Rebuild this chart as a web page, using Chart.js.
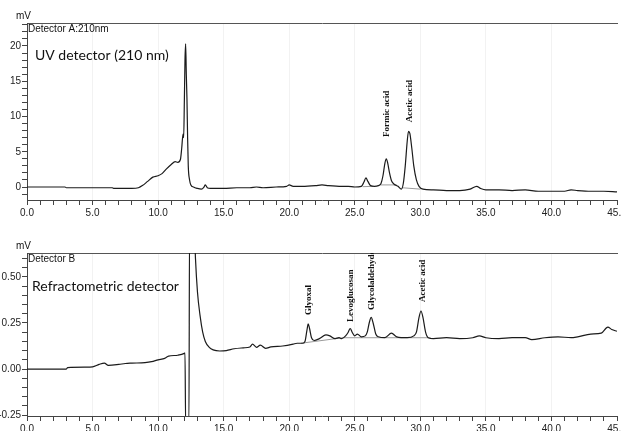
<!DOCTYPE html>
<html>
<head>
<meta charset="utf-8">
<script src="https://cdn.jsdelivr.net/npm/chart.js@4.4.1/dist/chart.umd.min.js"></script>
<style>
  html, body { margin: 0; padding: 0; background: #fff; width: 621px; height: 431px; overflow: hidden; }
  canvas { position: absolute; left: 0; }
  #uv { top: 0; }
  #ri { top: 230px; }
</style>
</head>
<body>
<canvas id="uv" width="640" height="235"></canvas>
<canvas id="ri" width="640" height="210"></canvas>
<script>
// ---------- DATA ----------
// Detector A (UV 210 nm): retention time (min) and signal (mV)
const uvTime = [0, 1, 2, 2.9, 3.0, 5, 6.5, 6.6, 8.0, 8.5, 8.8, 9.2, 9.6, 10.0, 10.3, 10.6, 11.0, 11.3, 11.5, 11.7, 11.8, 11.9, 11.95, 12.0, 12.05, 12.1, 12.15, 12.2, 12.25, 12.3, 12.4, 12.5, 12.7, 13.0, 13.3, 13.5, 13.6, 13.75, 14, 15, 16, 17, 17.5, 18, 19, 19.8, 20.0, 20.3, 21, 22, 22.5, 23, 24, 24.5, 25, 25.5, 25.7, 25.85, 26.0, 26.2, 26.5, 26.8, 27.0, 27.15, 27.3, 27.4, 27.5, 27.65, 27.8, 28.0, 28.3, 28.55, 28.7, 28.85, 29.0, 29.1, 29.2, 29.35, 29.5, 29.7, 29.9, 30.2, 31, 32, 33, 33.8, 34.3, 34.6, 35, 36, 37, 38, 39, 40, 41, 41.5, 42, 43, 44, 45];
const uvSignal = [0.0, 0.0, 0.0, 0.0, -0.1, -0.1, -0.1, -0.2, -0.2, -0.1, 0.2, 0.8, 1.4, 1.6, 1.9, 2.5, 3.2, 3.6, 3.5, 3.9, 5.5, 7.5, 7.0, 12, 18, 20.3, 16, 12.5, 7, 3, 1.0, 0.3, 0.0, -0.2, -0.3, 0.0, 0.3, -0.1, -0.2, -0.2, -0.1, -0.1, 0.0, -0.1, 0.0, 0.1, 0.3, 0.1, 0.1, 0.2, 0.3, 0.2, 0.1, 0.1, 0.0, 0.1, 0.7, 1.3, 0.8, 0.2, 0.1, 0.2, 0.5, 1.6, 3.4, 4.0, 3.5, 2.0, 0.9, 0.4, 0.1, -0.3, 0.5, 3.0, 6.5, 7.9, 7.6, 5.5, 3.0, 1.0, 0.1, -0.3, -0.4, -0.5, -0.5, -0.3, 0.1, -0.2, -0.4, -0.4, -0.5, -0.4, -0.6, -0.6, -0.6, -0.4, -0.5, -0.6, -0.6, -0.7];
// UV integration baselines (null = gap)
const uvBaseTime = [25.6, 26.4, null, 27.0, 28.2, null, 28.6, 30.0];
const uvBaseSignal = [0.05, 0.1, null, 0.3, 0.3, null, -0.1, -0.3];

// Detector B (refractometric): retention time (min) and signal (mV)
const riTime = [0, 3.0, 3.1, 4.5, 5.0, 5.5, 5.9, 6.2, 7.0, 7.5, 8.0, 9.0, 9.5, 10.0, 10.5, 10.8, 11.5, 12.0, 12.05, 12.1, 12.35, 12.4, 12.75, 12.85, 13.0, 13.2, 13.4, 13.6, 13.9, 14.2, 14.7, 15.2, 15.8, 16.5, 17.0, 17.2, 17.5, 17.8, 18.2, 18.6, 19.5, 20.3, 20.6, 21.0, 21.2, 21.35, 21.45, 21.55, 21.7, 21.9, 22.3, 22.8, 23.1, 23.5, 23.8, 24.0, 24.3, 24.5, 24.65, 24.8, 25.0, 25.2, 25.5, 25.8, 25.95, 26.1, 26.25, 26.4, 26.6, 26.8, 27.3, 27.8, 28.2, 29.0, 29.5, 29.7, 29.9, 30.05, 30.2, 30.4, 30.6, 31.0, 32, 33, 34, 34.5, 35, 36, 37, 38, 38.5, 39.5, 40.5, 41.5, 42, 43, 43.8, 44.3, 44.6, 45];
const riSignal = [0.000, 0.000, 0.008, 0.010, 0.012, 0.025, 0.032, 0.020, 0.025, 0.030, 0.032, 0.035, 0.040, 0.050, 0.058, 0.070, 0.075, 0.085, 0.088, -0.30, -0.30, 0.80, 0.80, 0.60, 0.42, 0.29, 0.20, 0.15, 0.118, 0.104, 0.098, 0.100, 0.110, 0.115, 0.120, 0.135, 0.118, 0.130, 0.112, 0.120, 0.125, 0.135, 0.140, 0.140, 0.15, 0.21, 0.245, 0.22, 0.17, 0.155, 0.165, 0.185, 0.18, 0.165, 0.17, 0.165, 0.18, 0.20, 0.22, 0.20, 0.18, 0.19, 0.175, 0.18, 0.20, 0.25, 0.28, 0.25, 0.19, 0.175, 0.17, 0.195, 0.175, 0.17, 0.18, 0.20, 0.28, 0.315, 0.28, 0.20, 0.17, 0.165, 0.17, 0.165, 0.17, 0.18, 0.17, 0.165, 0.17, 0.17, 0.16, 0.17, 0.175, 0.17, 0.175, 0.19, 0.195, 0.228, 0.215, 0.205];
// RI integration baseline
const riBaseTime = [20.9, 24.1, 30.8];
const riBaseSignal = [0.14, 0.17, 0.17];

// Peak names
const uvPeakNames = ["Formic acid", "Acetic acid"];
const uvPeakTimes = [27.4, 29.2];
const uvPeakLabelBase = [7.1, 9.2];
const riPeakNames = ["Glyoxal", "Levoglucosan", "Glycolaldehyde", "Acetic acid"];
const riPeakTimes = [21.5, 24.7, 26.3, 30.15];
const riPeakLabelBase = [0.293, 0.255, 0.32, 0.364];

// x tick labels (minutes)
const xMajorTicks = [0, 5, 10, 15, 20, 25, 30, 35, 40, 45];
// ---------- END DATA ----------

function pairs(xs, ys) {
  return xs.map((x, i) => (x === null ? { x: NaN, y: null } : { x: x, y: ys[i] }));
}

const LINE = '#1b1b1b';
const AXIS = '#444';
const TICKFONT = { family: "'Liberation Sans', Arial, sans-serif", size: 10 };

const annotPlugin = {
  id: 'annot',
  afterDatasetsDraw(chart, args, opts) {
    const { ctx, chartArea, scales } = chart;
    ctx.save();
    ctx.fillStyle = '#111';
    (opts.texts || []).forEach(t => {
      ctx.font = t.font;
      ctx.textAlign = 'left';
      ctx.textBaseline = 'alphabetic';
      ctx.fillText(t.text, chartArea.left + t.dx, chartArea.top + t.dy);
    });
    ctx.save();
    ctx.beginPath();
    ctx.rect(chartArea.left, chartArea.top, chartArea.right - chartArea.left, chartArea.bottom - chartArea.top);
    ctx.clip();
    ctx.font = "bold 9px 'Liberation Serif', 'Times New Roman', serif";
    (opts.names || []).forEach((name, i) => {
      const px = scales.x.getPixelForValue(opts.times[i]);
      const py = scales.y.getPixelForValue(opts.bases[i]);
      ctx.save();
      ctx.translate(px, py);
      ctx.rotate(-Math.PI / 2);
      ctx.textAlign = 'left';
      ctx.textBaseline = 'middle';
      ctx.fillText(name, 0, 0);
      ctx.restore();
    });
    ctx.restore();
    ctx.restore();
  }
};

function makeChart(id, cfg) {
  return new Chart(document.getElementById(id), {
    type: 'scatter',
    data: {
      datasets: [
        { data: cfg.base, showLine: true, borderColor: '#9a9a9a', borderWidth: 1, pointRadius: 0, spanGaps: false, order: 2 },
        { data: cfg.main, showLine: true, borderColor: LINE, borderWidth: 1.2, pointRadius: 0, cubicInterpolationMode: 'monotone', order: 1 }
      ]
    },
    options: {
      responsive: false,
      animation: false,
      devicePixelRatio: 1,
      layout: { padding: { top: cfg.padTop, right: 23, left: 0, bottom: 0 } },
      plugins: {
        legend: { display: false },
        tooltip: { enabled: false },
        annot: { texts: cfg.texts, names: cfg.names, times: cfg.times, bases: cfg.bases }
      },
      scales: {
        x: {
          type: 'linear',
          min: 0, max: 45,
          afterFit: s => { s.height = cfg.xHeight; },
          border: { display: true, color: AXIS, width: 1 },
          grid: {
            drawOnChartArea: true,
            tickLength: 5,
            tickColor: AXIS,
            color: ctx => (ctx.tick && xMajorTicks.includes(ctx.tick.value) && ctx.tick.value > 0 && ctx.tick.value < 45) ? 'rgba(0,0,0,0.05)' : 'rgba(0,0,0,0)'
          },
          ticks: {
            stepSize: 1,
            autoSkip: false,
            maxTicksLimit: 200,
            maxRotation: 0,
            padding: 2,
            color: '#222',
            font: TICKFONT,
            callback: v => (xMajorTicks.includes(v) ? v.toFixed(1) : '')
          }
        },
        x2: {
          type: 'linear',
          position: 'top',
          min: 0, max: 45,
          afterFit: s => { s.height = 0; },
          border: { display: true, color: '#555', width: 1 },
          grid: { display: false, drawTicks: false },
          ticks: { display: false }
        },
        y: {
          type: 'linear',
          min: cfg.yMin, max: cfg.yMax,
          afterFit: s => { s.width = 27; },
          border: { display: true, color: AXIS, width: 1 },
          grid: { drawOnChartArea: false, tickLength: 5, tickColor: AXIS },
          ticks: {
            stepSize: cfg.yStep,
            includeBounds: false,
            autoSkip: false,
            maxTicksLimit: 200,
            padding: 1,
            color: '#222',
            font: TICKFONT,
            callback: cfg.yLabel
          }
        }
      }
    },
    plugins: [annotPlugin]
  });
}

makeChart('uv', {
  main: pairs(uvTime, uvSignal),
  base: pairs(uvBaseTime, uvBaseSignal),
  padTop: 23,
  xHeight: 35,
  yMin: -1.84, yMax: 23.26, yStep: 1,
  yLabel: v => (Math.abs(v % 5) < 1e-9 ? String(Math.round(v)) : ''),
  names: uvPeakNames, times: uvPeakTimes, bases: uvPeakLabelBase,
  texts: [
    { text: 'mV', font: "10px 'Liberation Sans', Arial, sans-serif", dx: -11, dy: -4 },
    { text: 'Detector A:210nm', font: "10px 'Liberation Sans Narrow', 'Liberation Sans', Arial, sans-serif", dx: 1, dy: 9 },
    { text: 'UV detector (210 nm)', font: "14px Lato, 'Open Sans', sans-serif", dx: 8, dy: 37 }
  ]
});

makeChart('ri', {
  main: pairs(riTime, riSignal),
  base: pairs(riBaseTime, riBaseSignal),
  padTop: 23,
  xHeight: 24,
  yMin: -0.255, yMax: 0.63, yStep: 0.05,
  yLabel: v => { const q = v / 0.25; return Math.abs(q - Math.round(q)) < 1e-6 ? (Math.round(q) * 0.25).toFixed(2) : ''; },
  names: riPeakNames, times: riPeakTimes, bases: riPeakLabelBase,
  texts: [
    { text: 'mV', font: "10px 'Liberation Sans', Arial, sans-serif", dx: -11, dy: -4 },
    { text: 'Detector B', font: "10px 'Liberation Sans Narrow', 'Liberation Sans', Arial, sans-serif", dx: 1, dy: 9 },
    { text: 'Refractometric detector', font: "14px Lato, 'Open Sans', sans-serif", dx: 5, dy: 38 }
  ]
});
</script>
</body>
</html>
